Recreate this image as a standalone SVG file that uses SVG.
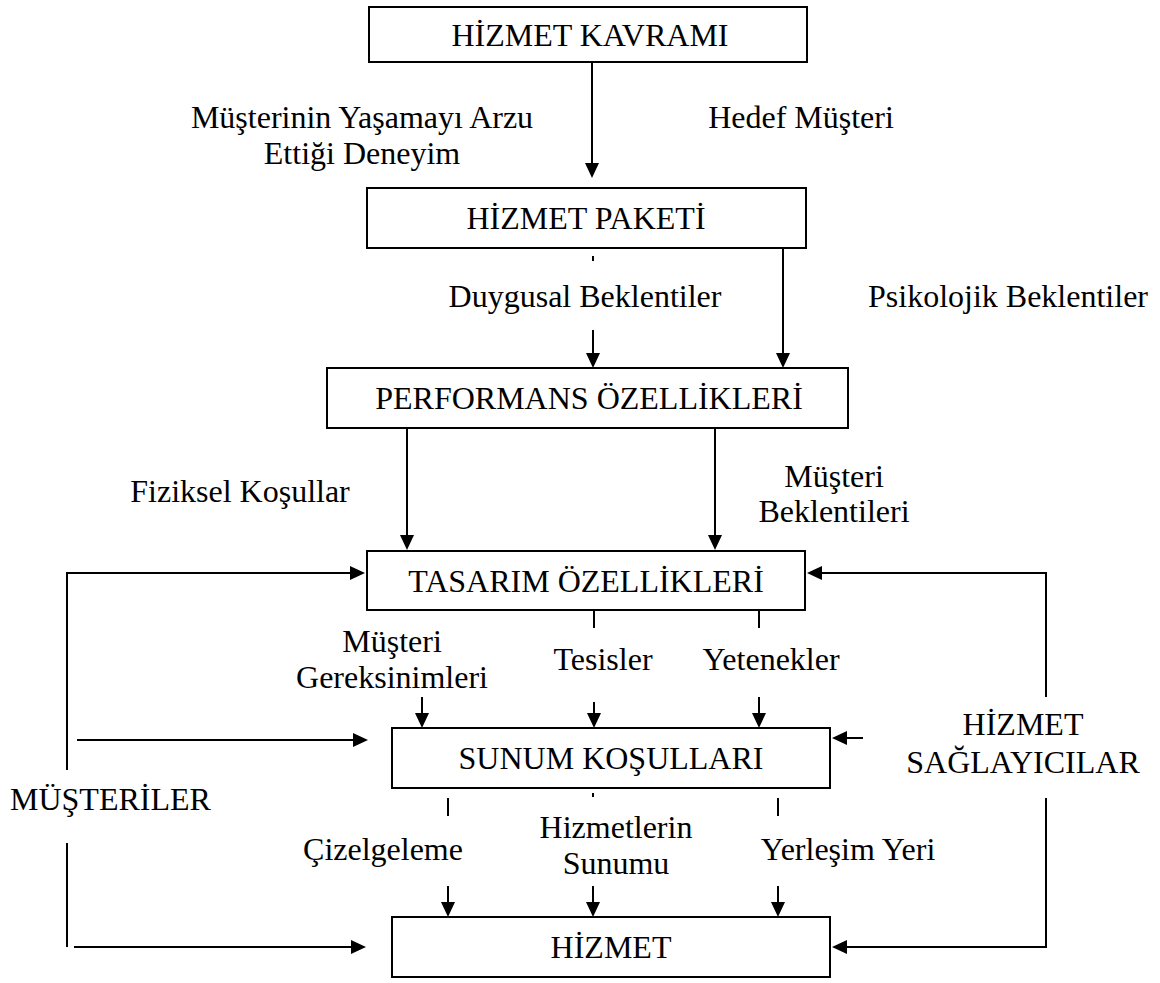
<svg xmlns="http://www.w3.org/2000/svg" width="1160" height="983" viewBox="0 0 1160 983">
  <defs>
    <!-- filled arrowhead; tip sits 8px beyond the end of the path -->
    <marker id="arrow" viewBox="0 0 15 14" refX="7" refY="7" markerWidth="15" markerHeight="14" markerUnits="userSpaceOnUse" orient="auto">
      <path d="M0,0 L15,7 L0,14 z" fill="#000"/>
    </marker>
  </defs>
  <style>
    .box { fill: #fff; stroke: #000; stroke-width: 2; }
    .link { fill: none; stroke: #000; stroke-width: 2; }
    .arr { marker-end: url(#arrow); }
    text { font-family: "Liberation Serif", "Times New Roman", serif; font-size: 32px; fill: #000; }
    .c { text-anchor: middle; }
  </style>
  <rect width="1160" height="983" fill="#fff"/>

  <!-- connectors -->
  <g id="connectors">
    <path class="link arr" d="M592,62 V170"/>
    <line class="link" x1="593" y1="256" x2="593" y2="261"/>
    <path class="link arr" d="M593,330 V360"/>
    <path class="link arr" d="M783,248 V360"/>
    <path class="link arr" d="M407,428 V542"/>
    <path class="link arr" d="M715,428 V542"/>
    <!-- customers feedback loop -->
    <path class="link arr" d="M67,770 V573 H357"/>
    <path class="link arr" d="M77,740 H360"/>
    <path class="link" d="M67,843 V947"/>
    <path class="link arr" d="M74,947 H358"/>
    <!-- service providers feedback loop -->
    <path class="link arr" d="M1046,697 V573 H815"/>
    <path class="link arr" d="M863,738 H840"/>
    <path class="link arr" d="M1046,798 V947 H840"/>
    <!-- design -> delivery -->
    <line class="link" x1="594" y1="610" x2="594" y2="628"/>
    <line class="link" x1="759" y1="610" x2="759" y2="628"/>
    <path class="link arr" d="M422,697 V720"/>
    <path class="link arr" d="M594,702 V720"/>
    <path class="link arr" d="M759,697 V720"/>
    <!-- delivery -> service -->
    <line class="link" x1="448" y1="798" x2="448" y2="816"/>
    <line class="link" x1="593" y1="793" x2="593" y2="797"/>
    <line class="link" x1="778" y1="798" x2="778" y2="816"/>
    <path class="link arr" d="M448,886 V909"/>
    <path class="link arr" d="M593,886 V909"/>
    <path class="link arr" d="M778,886 V909"/>
  </g>

  <!-- nodes -->
  <g id="hizmet-kavrami">
    <rect class="box" x="369" y="7" width="438" height="55"/>
    <text class="c" x="590" y="46">HİZMET KAVRAMI</text>
  </g>
  <g id="hizmet-paketi">
    <rect class="box" x="367" y="188" width="439" height="60"/>
    <text class="c" x="586" y="229">HİZMET PAKETİ</text>
  </g>
  <g id="performans">
    <rect class="box" x="327" y="368" width="521" height="60"/>
    <text class="c" x="589" y="409">PERFORMANS ÖZELLİKLERİ</text>
  </g>
  <g id="tasarim">
    <rect class="box" x="367" y="551" width="438" height="59"/>
    <text class="c" x="586" y="592">TASARIM ÖZELLİKLERİ</text>
  </g>
  <g id="sunum">
    <rect class="box" x="392" y="728" width="438" height="60"/>
    <text class="c" x="611" y="769">SUNUM KOŞULLARI</text>
  </g>
  <g id="hizmet">
    <rect class="box" x="392" y="917" width="438" height="60"/>
    <text class="c" x="611" y="958">HİZMET</text>
  </g>
  <g id="musteriler">
    <text x="10" y="810">MÜŞTERİLER</text>
  </g>
  <g id="saglayicilar">
    <text class="c" x="1023" y="735">HİZMET</text>
    <text class="c" x="1023" y="773">SAĞLAYICILAR</text>
  </g>

  <!-- connector labels -->
  <g id="labels">
    <text class="c" x="362" y="128">Müşterinin Yaşamayı Arzu</text>
    <text class="c" x="362" y="164">Ettiği Deneyim</text>
    <text class="c" x="801" y="128">Hedef Müşteri</text>
    <text class="c" x="585" y="307">Duygusal Beklentiler</text>
    <text class="c" x="1008" y="307">Psikolojik Beklentiler</text>
    <text class="c" x="240" y="502">Fiziksel Koşullar</text>
    <text class="c" x="834" y="487">Müşteri</text>
    <text class="c" x="834" y="522">Beklentileri</text>
    <text class="c" x="392" y="652">Müşteri</text>
    <text class="c" x="392" y="688">Gereksinimleri</text>
    <text class="c" x="603" y="670">Tesisler</text>
    <text class="c" x="771" y="670">Yetenekler</text>
    <text class="c" x="383" y="860">Çizelgeleme</text>
    <text class="c" x="616" y="838">Hizmetlerin</text>
    <text class="c" x="616" y="874">Sunumu</text>
    <text class="c" x="848" y="860">Yerleşim Yeri</text>
  </g>
</svg>
